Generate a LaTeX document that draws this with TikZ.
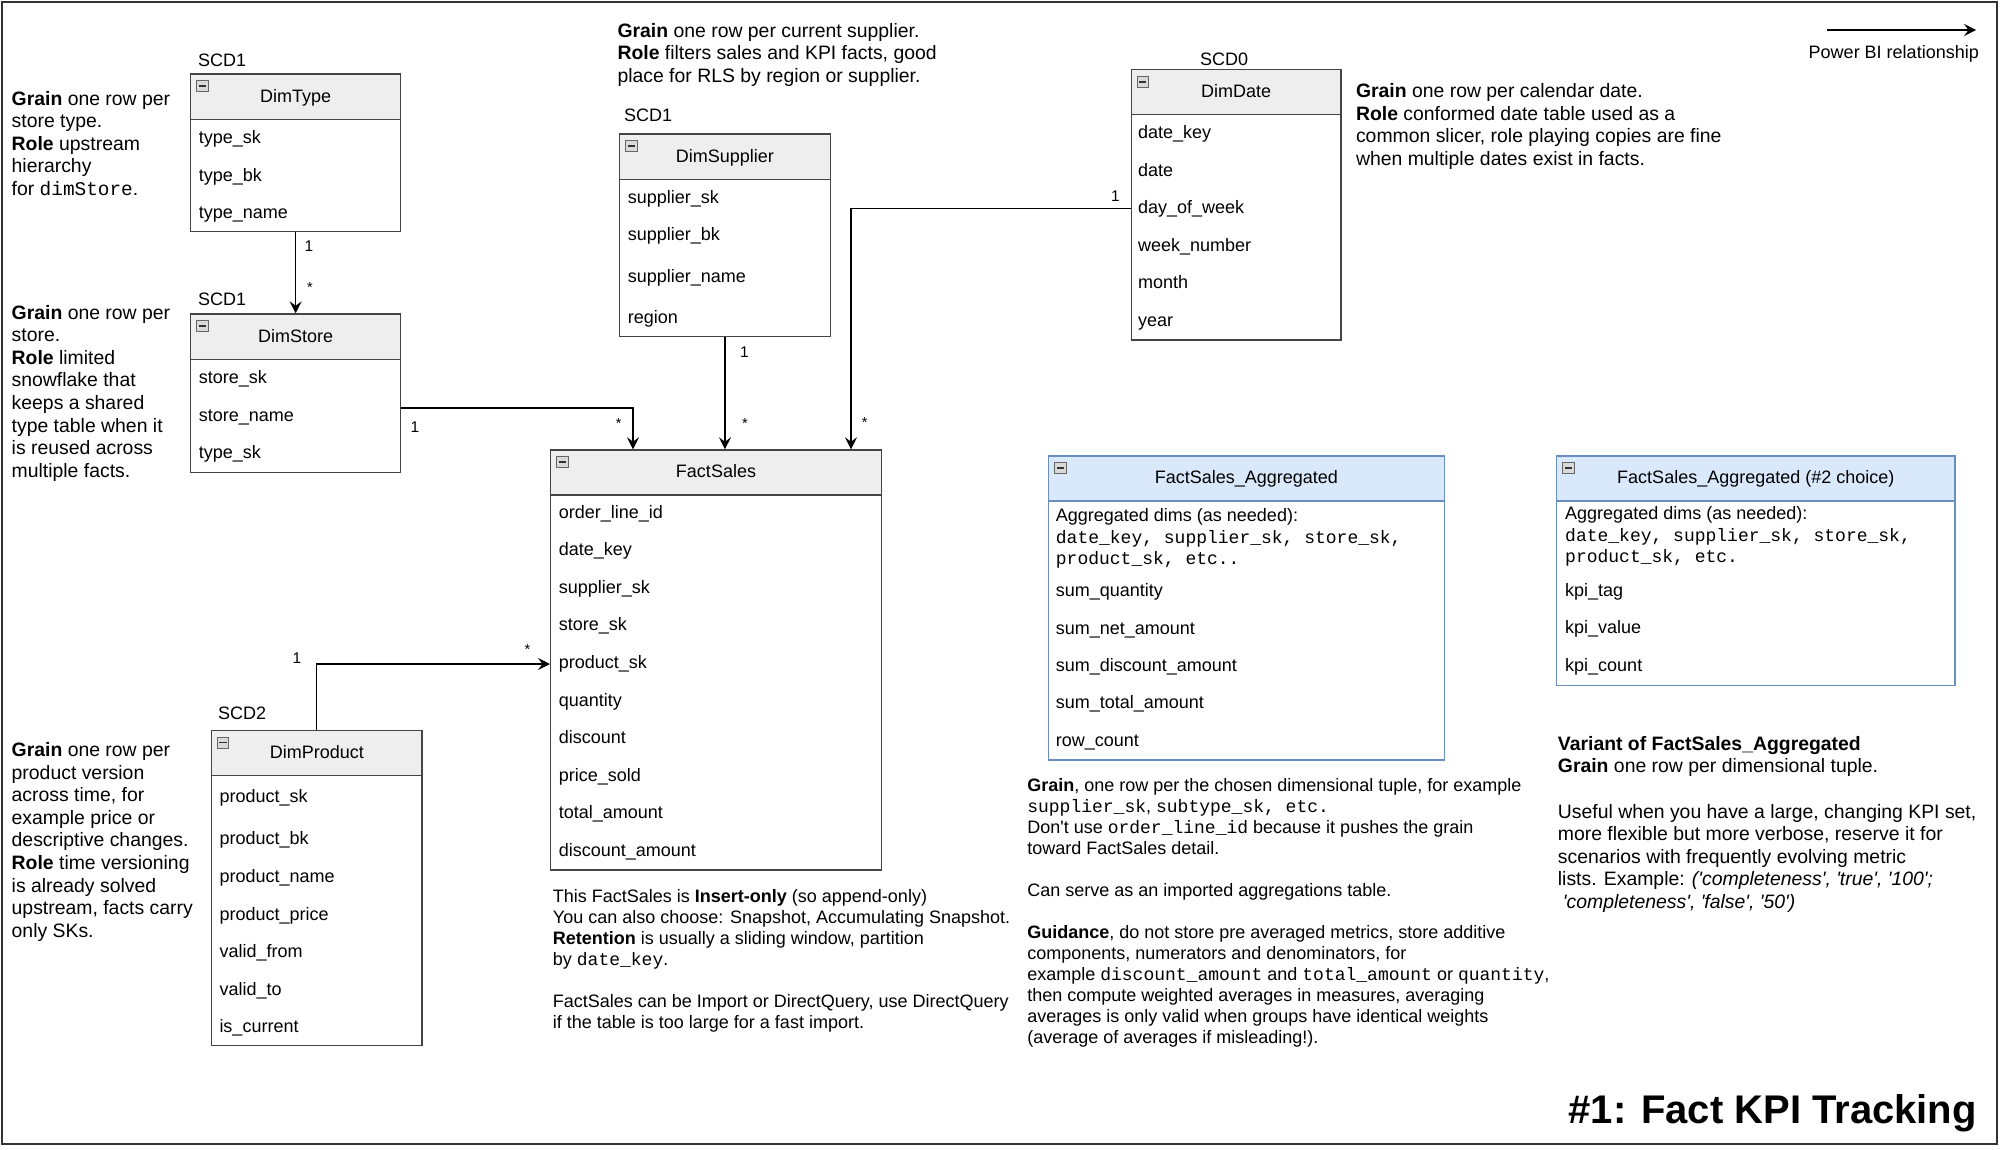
\documentclass[tikz,border=0pt]{standalone}
\usepackage{fontspec}
\setmainfont{Liberation Sans}
\setmonofont{Liberation Mono}
\usetikzlibrary{arrows.meta}
\definecolor{tline}{HTML}{444444}
\definecolor{thead}{HTML}{EEEEEE}
\definecolor{bline}{HTML}{6C8EBF}
\definecolor{bhead}{HTML}{DAE8FC}
\newcommand\sq{\textquotesingle}
\newcommand\tabfont{\fontsize{18}{21.6}\selectfont}
\newcommand\nfA{\fontsize{19.4}{22.6}\selectfont}
\newcommand\nfB{\fontsize{18}{21}\selectfont}
\newcommand\lblfont{\fontsize{15.5}{18}\selectfont}
\newcommand\astfont{\fontsize{14.5}{17}\selectfont}
\tikzset{
  hdbox/.style={draw=#1, line width=1.3pt, inner sep=0pt, anchor=north west, font=\tabfont, text height=13.5pt, text depth=2.7pt},
  bdbox/.style={draw=#1, fill=white, line width=1.3pt, inner sep=0pt, anchor=north west},
  iconbox/.style={draw=gray!80!black, fill=gray!30, line width=0.6pt, minimum width=11.5pt, minimum height=11pt, inner sep=0pt, anchor=north west},
  icondash/.style={draw=black!80, line width=1.4pt},
  rowtxt/.style={anchor=west, inner sep=0pt, font=\tabfont, text height=13.5pt, text depth=2.7pt},
  monorow/.style={anchor=west, inner sep=0pt, font=\tabfont\ttfamily, text height=13.5pt, text depth=2.7pt},
  noteA/.style={anchor=north west, inner sep=0pt, align=left, font=\nfA},
  noteB/.style={anchor=north west, inner sep=0pt, align=left, font=\nfB},
  scdlbl/.style={anchor=west, inner sep=0pt, font=\tabfont},
  lbl/.style={inner sep=0pt, font=\lblfont},
  ast/.style={inner sep=0pt, font=\astfont},
  rel/.style={draw=black, line width=1.3pt, -{Stealth[length=12pt,width=12pt,inset=4.5pt]}},
  framec/.style={draw=black!80, line width=2pt},
}
% name, L, T, R, HB, B, title, linecolor, headcolor
\newcommand\mktable[9]{%
  \node[hdbox=#8, fill=#9, minimum width={(#4-#2)*1pt}, minimum height={(#5-#3)*1pt}] (#1) at (#2,#3) {#7};
  \node[bdbox=#8, minimum width={(#4-#2)*1pt}, minimum height={(#6-#5)*1pt}] (#1b) at (#2,#5) {};
  \node[iconbox] (#1i) at ([xshift=6pt,yshift=-7pt]#1.north west) {};
  \draw[icondash] ([xshift=2.5pt]#1i.west) -- ([xshift=-2.5pt]#1i.east);
}
\begin{document}
\begin{tikzpicture}[x=1pt,y=-1pt]
\useasboundingbox (0,0) rectangle (2000,1149);
\fill[white] (0,0) rectangle (2000,1149);
\draw[framec] (1.5,1.5) rectangle (1997,1144);

% ---------- tables ----------
\mktable{dimtype}{190}{73.3}{400}{118.7}{231}{DimType}{tline}{thead}
\node[scdlbl] (scdtype) at (198,60) {SCD1};
\node[rowtxt] (dt1) at (198.7,137.7) {type\_sk};
\node[rowtxt] (dt2) at (198.7,175.7) {type\_bk};
\node[rowtxt] (dt3) at (198.7,212.7) {type\_name};

\mktable{dimstore}{190}{313.3}{400}{359}{471.7}{DimStore}{tline}{thead}
\node[scdlbl] (scdstore) at (198,299) {SCD1};
\node[rowtxt] (ds1) at (198.7,378) {store\_sk};
\node[rowtxt] (ds2) at (198.7,415.7) {store\_name};
\node[rowtxt] (ds3) at (198.7,453.3) {type\_sk};

\mktable{dimsupplier}{619}{133.3}{829.6}{179}{336}{DimSupplier}{tline}{thead}
\node[scdlbl] (scdsup) at (624,115) {SCD1};
\node[rowtxt] (su1) at (627.6,197.7) {supplier\_sk};
\node[rowtxt] (su2) at (627.6,235.3) {supplier\_bk};
\node[rowtxt] (su3) at (627.6,277.3) {supplier\_name};
\node[rowtxt] (su4) at (627.6,317.7) {region};

\mktable{dimdate}{1130.6}{69}{1340.3}{114}{339.3}{DimDate}{tline}{thead}
\node[scdlbl] (scddate) at (1200,59.3) {SCD0};
\node[rowtxt] (dd1) at (1137.8,133.3) {date\_key};
\node[rowtxt] (dd2) at (1137.8,170.7) {date};
\node[rowtxt] (dd3) at (1137.8,208.3) {day\_of\_week};
\node[rowtxt] (dd4) at (1137.8,246) {week\_number};
\node[rowtxt] (dd5) at (1137.8,283.3) {month};
\node[rowtxt] (dd6) at (1137.8,321) {year};

\mktable{factsales}{550}{449.3}{880.7}{494.2}{869.4}{FactSales}{tline}{thead}
\node[rowtxt] (fs1) at (558.7,512.6) {order\_line\_id};
\node[rowtxt] (fs2) at (558.7,550.2) {date\_key};
\node[rowtxt] (fs3) at (558.7,587.8) {supplier\_sk};
\node[rowtxt] (fs4) at (558.7,625.4) {store\_sk};
\node[rowtxt] (fs5) at (558.7,663) {product\_sk};
\node[rowtxt] (fs6) at (558.7,700.6) {quantity};
\node[rowtxt] (fs7) at (558.7,738.3) {discount};
\node[rowtxt] (fs8) at (558.7,775.9) {price\_sold};
\node[rowtxt] (fs9) at (558.7,813.5) {total\_amount};
\node[rowtxt] (fs10) at (558.7,850.6) {discount\_amount};

\mktable{dimproduct}{210.9}{729.9}{421.4}{775}{1045}{DimProduct}{tline}{thead}
\node[scdlbl] (scdprod) at (217.8,713) {SCD2};
\node[rowtxt] (dp1) at (219.3,797.3) {product\_sk};
\node[rowtxt] (dp2) at (219.3,839.3) {product\_bk};
\node[rowtxt] (dp3) at (219.3,877.2) {product\_name};
\node[rowtxt] (dp4) at (219.3,914.7) {product\_price};
\node[rowtxt] (dp5) at (219.3,952.2) {valid\_from};
\node[rowtxt] (dp6) at (219.3,989.7) {valid\_to};
\node[rowtxt] (dp7) at (219.3,1027.2) {is\_current};

\mktable{fsagg}{1048}{455.2}{1443.6}{500.2}{759.4}{FactSales\_Aggregated}{bline}{bhead}
\node[rowtxt] (fa0) at (1055.7,515.8) {Aggregated dims (as needed):};
\node[monorow] (fa0b) at (1055.7,537.8) {date\_key, supplier\_sk, store\_sk,};
\node[monorow] (fa0c) at (1055.7,559.4) {product\_sk, etc..};
\node[rowtxt] (fa1) at (1055.7,591.5) {sum\_quantity};
\node[rowtxt] (fa2) at (1055.7,628.6) {sum\_net\_amount};
\node[rowtxt] (fa3) at (1055.7,666.2) {sum\_discount\_amount};
\node[rowtxt] (fa4) at (1055.7,703.4) {sum\_total\_amount};
\node[rowtxt] (fa5) at (1055.7,741) {row\_count};

\mktable{fsaggtwo}{1556}{455.2}{1954.3}{500.2}{684.6}{FactSales\_Aggregated (\#2 choice)}{bline}{bhead}
\node[rowtxt] (fb0) at (1565,514.4) {Aggregated dims (as needed):};
\node[monorow] (fb0b) at (1565,536) {date\_key, supplier\_sk, store\_sk,};
\node[monorow] (fb0c) at (1565,557.5) {product\_sk, etc.};
\node[rowtxt] (fb1) at (1565,591) {kpi\_tag};
\node[rowtxt] (fb2) at (1565,628.2) {kpi\_value};
\node[rowtxt] (fb3) at (1565,665.8) {kpi\_count};

% ---------- connectors ----------
\draw[rel] (dimtypeb.south) -- (dimstore.north);
\node[lbl] (c1a) at (309,245.7) {1};
\node[ast] (c1b) at (310,288) {*};

\coordinate (bendstore) at (633,408);
\draw[rel] (dimstoreb.east |- bendstore) -| (factsales.north -| bendstore);
\node[lbl] (c2a) at (415,426.7) {1};
\node[ast] (c2b) at (618.8,423.3) {*};

\draw[rel] (dimsupplierb.south) -- (factsales.north -| dimsupplierb.south);
\node[lbl] (c3a) at (744.4,351.7) {1};
\node[ast] (c3b) at (744.9,423.3) {*};

\coordinate (benddate) at (851,208.3);
\draw[rel] (dimdateb.west |- benddate) -| (factsales.north -| benddate);
\node[lbl] (c4a) at (1115.3,196) {1};
\node[ast] (c4b) at (864.8,422.7) {*};

\coordinate (bendprod) at (316,664);
\draw[rel] (dimproduct.north) |- (factsalesb.west |- bendprod);
\node[lbl] (c5a) at (297,658.5) {1};
\node[ast] (c5b) at (527.4,649.6) {*};

% ---------- legend ----------
\coordinate (lgA) at (1827,30);
\coordinate (lgB) at (1976,30);
\draw[rel] (lgA) -- (lgB);
\node[anchor=east, inner sep=0pt, font=\tabfont] (lgtxt) at (1979,54.3) {Power BI relationship};

% ---------- notes ----------
\node[noteA] (n1) at (11.5,90.3) {\rule{0pt}{14.5pt}\textbf{Grain} one row per\\ store type.\\ \textbf{Role} upstream\\ hierarchy\\ for \texttt{dimStore}.};
\node[noteA] (n2) at (11.5,304.3) {\rule{0pt}{14.5pt}\textbf{Grain} one row per\\ store.\\ \textbf{Role} limited\\ snowflake that\\ keeps a shared\\ type table when it\\ is reused across\\ multiple facts.};
\node[noteA] (n3) at (11.5,741.7) {\rule{0pt}{14.5pt}\textbf{Grain} one row per\\ product version\\ across time, for\\ example price or\\ descriptive changes.\\ \textbf{Role} time versioning\\ is already solved\\ upstream, facts carry\\ only SKs.};
\node[noteA] (n4) at (617.3,22.3) {\rule{0pt}{14.5pt}\textbf{Grain} one row per current supplier.\\ \textbf{Role} filters sales and KPI facts, good\\ place for RLS by region or supplier.};
\node[noteA] (n5) at (1355.8,83) {\rule{0pt}{14.5pt}\textbf{Grain} one row per calendar date.\\ \textbf{Role} conformed date table used as a\\ common slicer, role playing copies are fine\\ when multiple dates exist in facts.};
\node[noteB] (n6) at (552.7,888.9) {\rule{0pt}{13.5pt}This FactSales is \textbf{Insert-only} (so append-only)\\ You can also choose: Snapshot, Accumulating Snapshot.\\ \textbf{Retention} is usually a sliding window, partition\\ by \texttt{date\_key}.\\[21pt] FactSales can be Import or DirectQuery, use DirectQuery\\ if the table is too large for a fast import.};
\node[noteB] (n7) at (1027.1,777.4) {\rule{0pt}{13.5pt}\textbf{Grain}, one row per the chosen dimensional tuple, for example\\ \texttt{supplier\_sk}, \texttt{subtype\_sk, etc.}\\ Don\sq t use \texttt{order\_line\_id} because it pushes the grain\\ toward FactSales detail.\\[21pt] Can serve as an imported aggregations table.\\[21pt] \textbf{Guidance}, do not store pre averaged metrics, store additive\\ components, numerators and denominators, for\\ example \texttt{discount\_amount} and \texttt{total\_amount} or \texttt{quantity},\\ then compute weighted averages in measures, averaging\\ averages is only valid when groups have identical weights\\ (average of averages if misleading!).};
\node[noteA] (n8) at (1557.7,735.5) {\rule{0pt}{14.5pt}\textbf{Variant of FactSales\_Aggregated}\\ \textbf{Grain} one row per dimensional tuple.\\[22.6pt] Useful when you have a large, changing KPI set,\\ more flexible but more verbose, reserve it for\\ scenarios with frequently evolving metric\\ lists. Example: \textit{(\sq completeness\sq, \sq true\sq, \sq 100\sq;}\\ \hspace*{5pt}\textit{\sq completeness\sq, \sq false\sq, \sq 50\sq)}};

% ---------- title ----------
\node[anchor=base east, inner sep=0pt, font=\fontsize{40}{48}\selectfont\bfseries] (title) at (1977,1123) {\#1: Fact KPI Tracking};
\end{tikzpicture}
\end{document}
